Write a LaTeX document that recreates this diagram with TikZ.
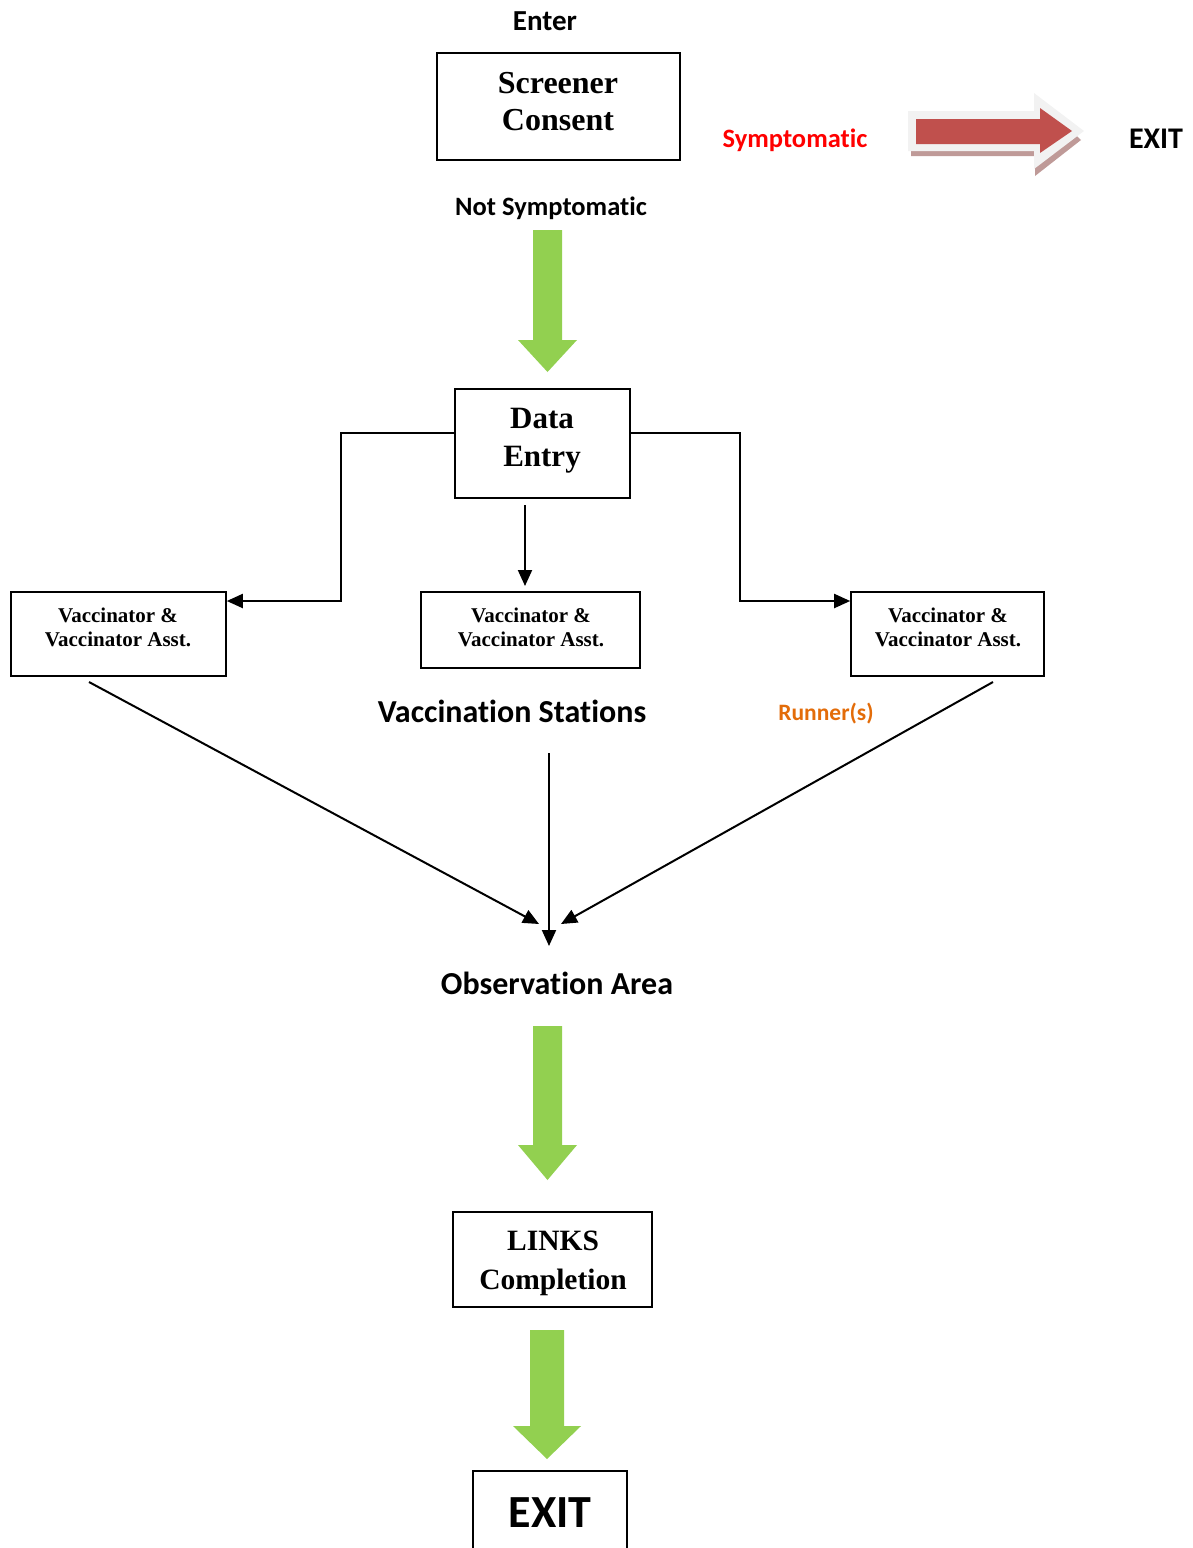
\documentclass[tikz,border=0pt]{standalone}
\usepackage{fontspec}
\setmainfont{Liberation Serif}
\newfontfamily\calib[RawFeature={-liga;-clig;-calt;-dlig}]{Carlito}
\usetikzlibrary{arrows.meta}
\definecolor{grn}{HTML}{92D050}
\definecolor{redarr}{HTML}{C0504D}
\definecolor{redshadow}{HTML}{BF9A98}
\definecolor{outl}{HTML}{F2F2F2}
\definecolor{runner}{HTML}{E36C09}
\newcommand\nolig{\kern0pt\relax}
\tikzset{
  boxline/.style={draw, line width=1.6pt, inner sep=0pt},
  txtbig/.style={font=\fontsize{32}{37}\selectfont\bfseries, align=center, inner sep=0pt},
  txtsmall/.style={font=\fontsize{21}{24}\selectfont\bfseries, align=center, inner sep=0pt},
  lbl/.style={font=\calib\bfseries\fontsize{26.5}{30}\selectfont, inner sep=0pt},
  lblbig/.style={font=\calib\bfseries\fontsize{32}{36}\selectfont, inner sep=0pt},
  conn/.style={line width=2pt, -{Triangle[length=16pt,width=14pt]}},
  greenarr/.style={fill=grn, draw=none}
}
\begin{document}
\begin{tikzpicture}[x=1pt,y=-1pt]
\useasboundingbox (0,0) rectangle (1193,1548);
% boxes
\node[boxline, minimum width=243pt, minimum height=107pt] (screener) at (558.5,106.5) {};
\node[txtbig] (screenertxt) at (558,101.5) {Screener\\Consent};
\node[boxline, minimum width=175pt, minimum height=109pt] (data) at (542.5,443.5) {};
\node[txtbig, font=\fontsize{31}{38}\selectfont\bfseries] (datatxt) at (542,441) {Data\\Entry};
\node[boxline, minimum width=215pt, minimum height=84pt] (vl) at (118.5,634) {};
\node[txtsmall] (vltxt) at (118,627) {Vaccinator \&\\Vaccinator Asst.};
\node[boxline, minimum width=219pt, minimum height=76pt] (vm) at (530.5,630) {};
\node[txtsmall] (vmtxt) at (531,627) {Vaccinator \&\\Vaccinator Asst.};
\node[boxline, minimum width=193pt, minimum height=84pt] (vr) at (947.5,634) {};
\node[txtsmall] (vrtxt) at (948,627) {Vaccinator \&\\Vaccinator Asst.};
\node[boxline, minimum width=199pt, minimum height=95pt] (links) at (552.5,1259.5) {};
\node[txtbig, font=\fontsize{29.5}{39}\selectfont\bfseries] (linkstxt) at (553,1263.5) {LINKS\\Completion};
\draw[line width=1.6pt] (473,1560) -- (473,1471) -- (627,1471) -- (627,1560);
\node[lblbig, font=\calib\bfseries\fontsize{46}{50}\selectfont] (exitb) at (550,1513) {EXIT};
% labels
\node[lbl, font=\calib\bfseries\fontsize{29}{32}\selectfont] (enter) at (545,21) {Enter};
\node[lbl] (notsym) at (551,208) {Not Symptomat\nolig ic};
\node[lbl, text=red] (sym) at (795,140) {Symptomat\nolig ic};
\node[lblbig, font=\calib\bfseries\fontsize{30}{34}\selectfont] (exitr) at (1156,139) {EXIT};
\node[lblbig] (vstat) at (512,711) {Vaccinat\nolig ion Stat\nolig ions};
\node[lbl, text=runner, font=\calib\bfseries\fontsize{23.5}{26}\selectfont] (runner) at (826,714) {Runner(s)};
\node[lblbig] (obs) at (557,983) {Observat\nolig ion Area};
% connectors
\draw[conn] (data.west |- 0,433) -- (341,433) -- (341,601) -- (vl.east |- 0,601);
\draw[conn] (data.east |- 0,433) -- (740,433) -- (740,601) -- (vr.west |- 0,601);
\coordinate (dm) at (525,505);
\coordinate (dmend) at (525,586);
\draw[conn] (dm) -- (dmend);
\coordinate (l1) at (89,682); \coordinate (l1e) at (539,924);
\coordinate (m1) at (549,753); \coordinate (m1e) at (549,946);
\coordinate (r1) at (993,682); \coordinate (r1e) at (561,924);
\draw[conn] (l1) -- (l1e);
\draw[conn] (m1) -- (m1e);
\draw[conn] (r1) -- (r1e);
% green arrows
\fill[greenarr] (533,230) -- (562,230) -- (562,340) -- (577,340) -- (547.5,372) -- (518,340) -- (533,340) -- cycle;
\fill[greenarr] (533,1026) -- (562,1026) -- (562,1145) -- (577,1145) -- (547.5,1180) -- (518,1145) -- (533,1145) -- cycle;
\fill[greenarr] (530,1330) -- (564,1330) -- (564,1426) -- (581,1426) -- (547,1459) -- (513,1426) -- (530,1426) -- cycle;
% red arrow
\fill[redshadow] (911,115) -- (1035,115) -- (1035,97) -- (1081,140) -- (1035,176) -- (1035,156) -- (911,156) -- cycle;
\fill[outl] (908,111) -- (1034,111) -- (1034,93) -- (1084,131) -- (1034,169) -- (1034,151) -- (908,151) -- cycle;
\fill[redarr] (916,119) -- (1040,119) -- (1040,108) -- (1072,131) -- (1040,153) -- (1040,144) -- (916,144) -- cycle;
\end{tikzpicture}
\end{document}
